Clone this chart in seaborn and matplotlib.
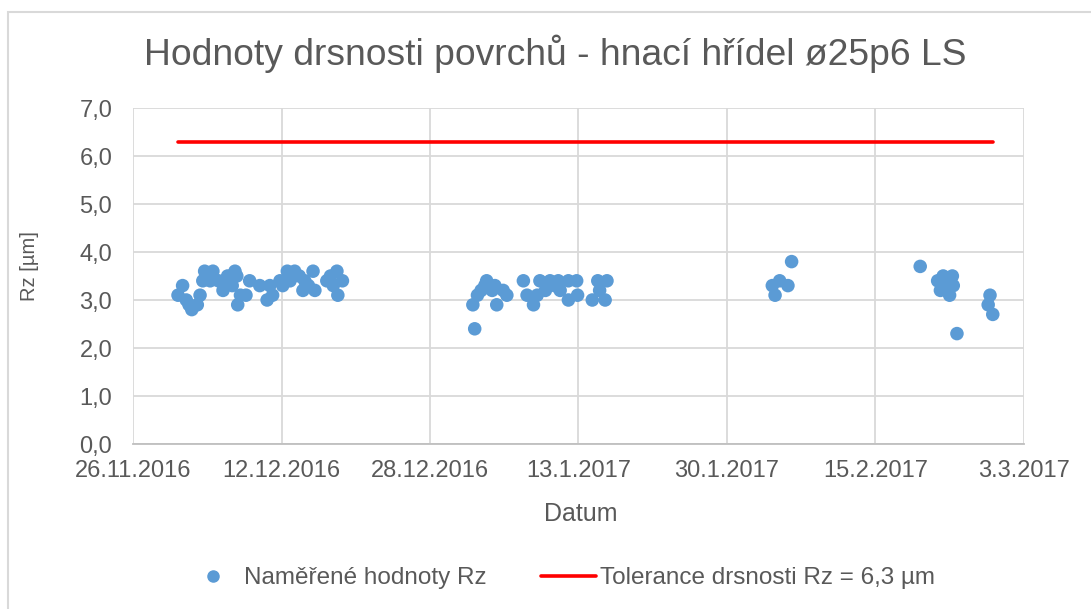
import numpy as np
import pandas as pd
import seaborn as sns
import matplotlib.pyplot as plt
import matplotlib.dates as mdates
from matplotlib.lines import Line2D
from matplotlib.patches import Rectangle

# measurement days counted from 26.11.2016, and measured Rz
start = pd.Timestamp('2016-11-26')
days = [4.9, 5.4, 5.8, 6.1, 6.4, 7.0, 7.3, 7.6, 7.8, 8.4, 8.7, 9.3, 9.8, 10.2, 10.3,
        10.8, 11.1, 11.3, 11.4, 11.7, 12.3, 12.7, 13.8, 14.6, 14.9, 15.2, 16.0, 16.3,
        16.8, 17.1, 17.6, 18.1, 18.5, 18.7, 19.1, 19.6, 19.8, 21.1, 21.5, 21.8, 22.2,
        22.3, 22.8,
        37.0, 37.2, 37.5, 37.9, 38.3, 38.5, 39.1, 39.4, 39.6, 40.3, 40.7, 42.5, 42.9,
        43.6, 44.0, 44.3, 44.9, 45.4, 45.9, 46.3, 46.5, 47.4, 47.4, 48.3, 48.4, 50.0,
        50.6, 50.8, 51.4, 51.6,
        69.6, 69.9, 70.4, 71.3, 71.7,
        85.7, 87.6, 87.9, 88.2, 88.6, 88.9, 89.2, 89.3, 89.7, 93.1, 93.3, 93.6]
rz = [3.1, 3.3, 3.0, 2.9, 2.8, 2.9, 3.1, 3.4, 3.6, 3.4, 3.6, 3.4, 3.2, 3.4, 3.5,
      3.3, 3.6, 3.5, 2.9, 3.1, 3.1, 3.4, 3.3, 3.0, 3.3, 3.1, 3.4, 3.3,
      3.6, 3.4, 3.6, 3.5, 3.2, 3.4, 3.3, 3.6, 3.2, 3.4, 3.5, 3.3, 3.6,
      3.1, 3.4,
      2.9, 2.4, 3.1, 3.2, 3.3, 3.4, 3.2, 3.3, 2.9, 3.2, 3.1, 3.4, 3.1,
      2.9, 3.1, 3.4, 3.2, 3.4, 3.3, 3.4, 3.2, 3.4, 3.0, 3.4, 3.1, 3.0,
      3.4, 3.2, 3.0, 3.4,
      3.3, 3.1, 3.4, 3.3, 3.8,
      3.7, 3.4, 3.2, 3.5, 3.3, 3.1, 3.5, 3.3, 2.3, 2.9, 3.1, 2.7]

tol_days = [4.9, 93.6]
tol_values = [6.3, 6.3]

xtick_labels = ['26.11.2016', '12.12.2016', '28.12.2016', '13.1.2017',
                '30.1.2017', '15.2.2017', '3.3.2017']
ytick_values = [0, 1, 2, 3, 4, 5, 6, 7]

df = pd.DataFrame({'Datum': start + pd.to_timedelta(days, unit='D'), 'Rz': rz})
tol = pd.DataFrame({'Datum': start + pd.to_timedelta(tol_days, unit='D'), 'Rz': tol_values})

sns.set_style('white')
plt.rcParams['font.family'] = ['Liberation Sans', 'DejaVu Sans']
grey = '#595959'

fig = plt.figure(figsize=(10.91, 6.09), dpi=100)
ax = fig.add_axes([133/1091, 1 - 444/609, (1024 - 133)/1091, (444 - 108)/609])

# chart frame
fig.patches.append(Rectangle((8/1091, -0.01), 1.02, 1 - 12/609 + 0.01, transform=fig.transFigure,
                             fill=False, edgecolor='#d9d9d9', lw=1.5))

sns.lineplot(data=tol, x='Datum', y='Rz', color='#ff0000', lw=2.6, ax=ax, zorder=3)
sns.scatterplot(data=df, x='Datum', y='Rz', color='#5b9bd5', s=95, edgecolor='none', ax=ax, zorder=4)

x0 = mdates.date2num(pd.Timestamp('2016-11-26'))
x1 = mdates.date2num(pd.Timestamp('2017-03-03'))
ax.set_xlim(x0, x1)
ax.set_xticks(np.linspace(x0, x1, len(xtick_labels)))
ax.set_xticklabels(xtick_labels)
ax.set_ylim(0, 7)
ax.set_yticks(ytick_values)
ax.set_yticklabels([f'{v:.1f}'.replace('.', ',') for v in ytick_values])

ax.grid(True, color='#d9d9d9', lw=1.3)
for s in ['top', 'right', 'left']:
    ax.spines[s].set_visible(False)
ax.spines['bottom'].set_color('#bfbfbf')
ax.spines['bottom'].set_linewidth(1.3)
ax.tick_params(axis='both', length=0, labelsize=17, colors=grey)
ax.tick_params(axis='x', pad=11.5)
ax.tick_params(axis='y', pad=15)

ax.set_xlabel('Datum', fontsize=18, color=grey)
ax.set_ylabel('Rz [µm]', fontsize=14.5, color=grey)
ax.xaxis.set_label_coords(0.502, -0.173)
ax.yaxis.set_label_coords(-0.106, 0.53)
fig.text(555/1091, 1 - 54/609, 'Hodnoty drsnosti povrchů - hnací hřídel ø25p6 LS',
         ha='center', va='center', fontsize=26.8, color=grey)

handles = [Line2D([], [], marker='o', ls='none', color='#5b9bd5', markersize=8),
           Line2D([], [], color='#ff0000', lw=2.6)]
fig.legend(handles, ['Naměřené hodnoty Rz', 'Tolerance drsnosti Rz = 6,3 µm'],
           loc='center', bbox_to_anchor=(560/1091, 1 - 578/609), ncol=2, frameon=False,
           fontsize=17.5, labelcolor=grey, handlelength=2.26, columnspacing=2.26,
           handletextpad=0.15)

fig.savefig('out.png', dpi=100)
